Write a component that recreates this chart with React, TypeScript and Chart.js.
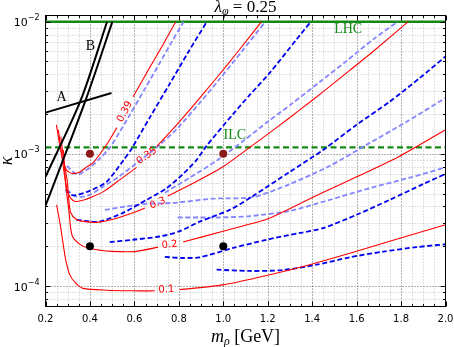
import React, { useEffect, useRef } from "react";
import { Chart, registerables } from "chart.js";

Chart.register(...registerables);

// ---------- axis ranges & ticks ----------
const X_MIN = 0.2;
const X_MAX = 2.0;
const Y_MIN = 7.04e-5;
const Y_MAX = 1.114e-2;

const xTickValues = [0.2, 0.4, 0.6, 0.8, 1.0, 1.2, 1.4, 1.6, 1.8, 2.0];
const xTickLabels = ["0.2", "0.4", "0.6", "0.8", "1.0", "1.2", "1.4", "1.6", "1.8", "2.0"];
const yTickValues = [1e-4, 1e-3, 1e-2];
const yTickExponents = ["\u22124", "\u22123", "\u22122"];

// ---------- red solid contours ----------
const r039X = [0.249, 0.264, 0.278, 0.294, 0.320, 0.354, 0.387, 0.414, 0.458, 0.489, 0.521, null, 0.594, 0.669, 0.728, 0.786];
const r039Y = [1.66e-3, 1.17e-3, 9.0e-4, 7.57e-4, 7.1e-4, 7.3e-4, 8.0e-4, 8.55e-4, 1.07e-3, 1.28e-3, 1.58e-3, null, 2.7e-3, 4.5e-3, 6.67e-3, 1.0e-2];

const r035X = [0.258, 0.273, 0.282, 0.297, 0.314, 0.335, 0.377, 0.414, 0.462, 0.534, 0.610, null, 0.701, 0.782, 0.872, 0.962, 1.066, 1.172];
const r035Y = [1.52e-3, 9.83e-4, 7.57e-4, 5.34e-4, 4.6e-4, 4.36e-4, 4.5e-4, 4.75e-4, 5.2e-4, 6.36e-4, 7.9e-4, null, 1.14e-3, 1.60e-3, 2.39e-3, 3.62e-3, 5.95e-3, 1.0e-2];

const r030X = [0.269, 0.282, 0.297, 0.305, 0.313, 0.340, 0.377, 0.430, 0.504, 0.610, 0.647, null, 0.750, 0.864, 0.999, 1.119, 1.232, 1.344, 1.457, 1.569, 1.682, 1.832];
const r030Y = [1.35e-3, 9.0e-4, 6.36e-4, 4.49e-4, 3.6e-4, 3.17e-4, 3.07e-4, 3.03e-4, 3.2e-4, 3.66e-4, 3.9e-4, null, 4.8e-4, 6.0e-4, 8.0e-4, 1.12e-3, 1.545e-3, 2.15e-3, 3.02e-3, 4.28e-3, 6.11e-3, 1.0e-2];

const r020X = [0.280, 0.291, 0.305, 0.320, 0.358, 0.399, 0.462, 0.534, 0.610, 0.707, null, 0.819, 0.999, 1.195, 1.299, 1.448, 1.600, 1.794, 2.0];
const r020Y = [1.07e-3, 5.83e-4, 3.77e-4, 2.4e-4, 2.05e-4, 1.92e-4, 1.85e-4, 1.82e-4, 1.83e-4, 1.97e-4, null, 2.15e-4, 2.6e-4, 3.2e-4, 3.85e-4, 5.1e-4, 6.7e-4, 9.6e-4, 1.52e-3];

const r010X = [0.250, 0.268, 0.279, 0.291, 0.309, 0.336, 0.369, 0.475, 0.594, 0.692, null, 0.804, 0.999, 1.195, 1.389, 1.600, 1.794, 2.0];
const r010Y = [4.12e-4, 2.8e-4, 2.1e-4, 1.58e-4, 1.22e-4, 1.05e-4, 9.6e-5, 9.3e-5, 9.2e-5, 9.2e-5, null, 9.4e-5, 1.02e-4, 1.2e-4, 1.45e-4, 1.83e-4, 2.3e-4, 2.91e-4];

// ---------- dark blue dashed contours ----------
const d1X = [0.290, 0.324, 0.399, 0.475, 0.552, 0.584, 0.669, 0.755, 0.840, 0.926];
const d1Y = [5.34e-4, 4.85e-4, 5.25e-4, 6.15e-4, 9.0e-4, 1.07e-3, 1.88e-3, 3.30e-3, 5.79e-3, 1.0e-2];

const d2X = [0.340, 0.399, 0.444, 0.549, 0.655, 0.745, 0.819, 0.880, 0.925, 1.044, 1.119, 1.209, 1.330, 1.394];
const d2Y = [3.17e-4, 3.08e-4, 3.07e-4, 3.58e-4, 4.49e-4, 5.5e-4, 7.05e-4, 9.0e-4, 1.15e-3, 2.0e-3, 2.79e-3, 4.1e-3, 7.36e-3, 1.0e-2];

const d3X = [0.489, 0.593, 0.714, 0.804, 0.894, 1.029, 1.134, 1.299, 1.449, 1.600, 1.749, 1.884, 2.0];
const d3Y = [2.15e-4, 2.24e-4, 2.37e-4, 2.6e-4, 3.07e-4, 3.77e-4, 4.8e-4, 7.3e-4, 1.07e-3, 1.66e-3, 2.48e-3, 3.75e-3, 5.45e-3];

const d4X = [0.737, 0.818, 0.894, 1.044, 1.195, 1.344, 1.449, 1.600, 1.749, 1.899, 2.0];
const d4Y = [1.66e-4, 1.63e-4, 1.65e-4, 1.94e-4, 2.24e-4, 2.52e-4, 2.74e-4, 3.46e-4, 4.49e-4, 5.9e-4, 7.06e-4];

const d5X = [0.970, 1.119, 1.269, 1.420, 1.569, 1.719, 1.870, 2.0];
const d5Y = [1.33e-4, 1.3e-4, 1.32e-4, 1.45e-4, 1.65e-4, 1.82e-4, 1.97e-4, 2.07e-4];

// ---------- light blue dashed contours ----------
const l1X = [0.296, 0.342, 0.399, 0.444, 0.489, 0.534, 0.579, 0.647, 0.714, 0.768, 0.822];
const l1Y = [8.1e-4, 7.0e-4, 7.85e-4, 9.2e-4, 1.11e-3, 1.466e-3, 1.97e-3, 3.10e-3, 4.87e-3, 7.03e-3, 1.0e-2];

const l2X = [0.296, 0.342, 0.399, 0.455, 0.534, 0.624, 0.719, 0.800, 0.890, 0.980, 1.083, 1.189];
const l2Y = [5.34e-4, 4.72e-4, 4.9e-4, 5.6e-4, 6.8e-4, 8.86e-4, 1.19e-3, 1.60e-3, 2.39e-3, 3.62e-3, 5.95e-3, 1.0e-2];

const l3X = [0.737, 0.849, 0.975, 1.097, 1.200, 1.308, 1.434, 1.560, 1.677, 1.785];
const l3Y = [5.08e-4, 6.6e-4, 9.0e-4, 1.28e-3, 1.75e-3, 2.39e-3, 3.50e-3, 5.13e-3, 7.40e-3, 1.0e-2];

const l4X = [0.467, 0.565, 0.655, 0.773, 0.953, 1.133, 1.299, 1.479, 1.644, 1.825, 2.0];
const l4Y = [3.77e-4, 4.0e-4, 4.2e-4, 4.25e-4, 4.58e-4, 4.7e-4, 5.9e-4, 8.1e-4, 1.17e-3, 1.75e-3, 2.65e-3];

const l5X = [0.795, 0.894, 0.984, 1.119, 1.299, 1.479, 1.659, 1.839, 2.0];
const l5Y = [3.3e-4, 3.3e-4, 3.3e-4, 3.38e-4, 3.7e-4, 4.49e-4, 5.5e-4, 6.6e-4, 7.9e-4];

// ---------- black bounds A and B ----------
const aX = [0.2, 0.497];
const aY = [2.05e-3, 2.89e-3];
const b1X = [0.477, 0.359, 0.2];
const b1Y = [1.0e-2, 2.56e-3, 6.7e-4];
const b2X = [0.501, 0.381, 0.2];
const b2Y = [1.0e-2, 2.56e-3, 4.05e-4];

// ---------- collider reach ----------
const lhcKappa = 1.0e-2;
const ilcKappa = 1.12e-3;

// ---------- benchmark points ----------
const dotX = [0.4, 1.0, 0.4, 1.0];
const dotY = [1.0e-3, 1.0e-3, 2.0e-4, 2.0e-4];

// ---------- contour labels ----------
const contourLabels = ["0.39", "0.35", "0.3", "0.2", "0.1"];
const contourLabelX = [0.557, 0.656, 0.705, 0.759, 0.744];
const contourLabelY = [2.08e-3, 9.66e-4, 4.23e-4, 2.05e-4, 9.4e-5];
const contourLabelAngle = [-62, -36, -22, -6, -2];

// ---------- text annotations ----------
const annotTexts = ["LHC", "ILC", "A", "B"];
const annotX = [1.562, 1.052, 0.272, 0.402];
const annotY = [8.73e-3, 1.37e-3, 2.67e-3, 6.47e-3];

const RED = "#ff0000";
const BLUE = "#0000f0";
const LBLUE = "#8585ff";
const GREEN = "#138a13";
const DOT_RED = "#8b1a1a";
const DASH = [5, 2.6];

function pts(xs: (number | null)[], ys: (number | null)[]) {
  const out: any[] = [];
  for (let i = 0; i < xs.length; i++) {
    if (xs[i] === null || ys[i] === null) out.push({ x: xs[i - 1] as number, y: null });
    else out.push({ x: xs[i], y: ys[i] });
  }
  return out;
}

function curve(xs: (number | null)[], ys: (number | null)[], color: string, width: number, dash: number[], tension = 0.25) {
  return {
    data: pts(xs, ys),
    borderColor: color,
    backgroundColor: color,
    borderWidth: width,
    borderDash: dash,
    pointRadius: 0,
    pointHoverRadius: 0,
    fill: false,
    tension,
    spanGaps: false,
    showLine: true,
  };
}

const decorPlugin = {
  id: "decor",
  beforeDatasetsDraw(chart: any) {
    const { ctx, chartArea: a } = chart;
    const xs = chart.scales.x;
    const ys = chart.scales.y;
    ctx.save();
    ctx.lineWidth = 1;
    const vline = (v: number, color: string) => {
      const p = Math.round(xs.getPixelForValue(v)) + 0.5;
      ctx.strokeStyle = color;
      ctx.beginPath();
      ctx.moveTo(p, a.top);
      ctx.lineTo(p, a.bottom);
      ctx.stroke();
    };
    const hline = (v: number, color: string) => {
      const p = Math.round(ys.getPixelForValue(v)) + 0.5;
      ctx.strokeStyle = color;
      ctx.beginPath();
      ctx.moveTo(a.left, p);
      ctx.lineTo(a.right, p);
      ctx.stroke();
    };
    ctx.setLineDash([1, 2]);
    for (let k = 5; k < 40; k++) {
      if (k % 4 !== 0) vline(k * 0.05, "rgba(0,0,0,0.24)");
    }
    for (let n = -5; n <= -2; n++) {
      for (let m = 2; m <= 9; m++) {
        const v = m * Math.pow(10, n);
        if (v > Y_MIN && v < Y_MAX) hline(v, "rgba(0,0,0,0.24)");
      }
    }
    xTickValues.forEach((v) => {
      if (v > X_MIN + 1e-6 && v < X_MAX - 1e-6) vline(v, "rgba(0,0,0,0.6)");
    });
    yTickValues.forEach((v) => hline(v, "rgba(0,0,0,0.6)"));
    ctx.restore();
  },
  afterDraw(chart: any) {
    const { ctx, chartArea: a } = chart;
    const xs = chart.scales.x;
    const ys = chart.scales.y;
    ctx.save();
    ctx.setLineDash([]);
    ctx.strokeStyle = "#000";
    ctx.lineWidth = 1;
    ctx.beginPath();
    for (let k = 4; k <= 40; k++) {
      const p = Math.round(xs.getPixelForValue(k * 0.05)) + 0.5;
      const len = k % 4 === 0 ? 5 : 2.5;
      ctx.moveTo(p, a.bottom);
      ctx.lineTo(p, a.bottom - len);
      ctx.moveTo(p, a.top);
      ctx.lineTo(p, a.top + len);
    }
    for (let n = -5; n <= -2; n++) {
      for (let m = 1; m <= 9; m++) {
        const v = m * Math.pow(10, n);
        if (v <= Y_MIN || v >= Y_MAX) continue;
        const p = Math.round(ys.getPixelForValue(v)) + 0.5;
        const len = m === 1 ? 5 : 2.5;
        ctx.moveTo(a.left, p);
        ctx.lineTo(a.left + len, p);
        ctx.moveTo(a.right, p);
        ctx.lineTo(a.right - len, p);
      }
    }
    ctx.stroke();
    ctx.strokeRect(a.left, a.top, a.right - a.left, a.bottom - a.top);

    // x tick labels
    ctx.fillStyle = "#000";
    ctx.font = '10px "DejaVu Sans"';
    ctx.textAlign = "center";
    ctx.textBaseline = "alphabetic";
    xTickValues.forEach((v, i) => {
      ctx.fillText(xTickLabels[i], xs.getPixelForValue(v), a.bottom + 15.5);
    });
    // y tick labels 10^n
    yTickValues.forEach((v, i) => {
      const py = ys.getPixelForValue(v);
      ctx.font = '8px "DejaVu Sans"';
      const ew = ctx.measureText(yTickExponents[i]).width;
      ctx.font = '11px "DejaVu Sans"';
      const bw = ctx.measureText("10").width;
      const right = a.left - 6;
      ctx.textAlign = "left";
      ctx.fillText("10", right - ew - bw, py + 4.5);
      ctx.font = '8px "DejaVu Sans"';
      ctx.fillText(yTickExponents[i], right - ew, py - 1.5);
    });

    // title
    const cx = (a.left + a.right) / 2;
    ctx.font = 'italic 17px "Liberation Serif"';
    const w1 = ctx.measureText("\u03bb").width;
    ctx.font = 'italic 12px "Liberation Serif"';
    const w2 = ctx.measureText("\u03c6").width;
    ctx.font = '17px "Liberation Serif"';
    const w3 = ctx.measureText(" = 0.25").width;
    let sx = cx - (w1 + w2 + w3) / 2;
    const tb = a.top - 3.5;
    ctx.textAlign = "left";
    ctx.font = 'italic 17px "Liberation Serif"';
    ctx.fillText("\u03bb", sx, tb);
    sx += w1;
    ctx.font = 'italic 12px "Liberation Serif"';
    ctx.fillText("\u03c6", sx, tb + 3);
    sx += w2;
    ctx.font = '17px "Liberation Serif"';
    ctx.fillText(" = 0.25", sx, tb);

    // x axis title
    ctx.font = 'italic 18px "Liberation Serif"';
    const m1 = ctx.measureText("m").width;
    ctx.font = 'italic 12px "Liberation Serif"';
    const m2 = ctx.measureText("\u03c1").width;
    ctx.font = '18px "Liberation Serif"';
    const m3 = ctx.measureText(" [GeV]").width;
    let mx = cx - (m1 + m2 + m3) / 2;
    const mb = a.bottom + 35;
    ctx.font = 'italic 18px "Liberation Serif"';
    ctx.fillText("m", mx, mb);
    mx += m1;
    ctx.font = 'italic 12px "Liberation Serif"';
    ctx.fillText("\u03c1", mx, mb + 3);
    mx += m2;
    ctx.font = '18px "Liberation Serif"';
    ctx.fillText(" [GeV]", mx, mb);

    // y axis title
    ctx.save();
    ctx.translate(12, (a.top + a.bottom) / 2);
    ctx.rotate(-Math.PI / 2);
    ctx.font = 'italic 18px "Liberation Serif"';
    ctx.textAlign = "center";
    ctx.fillText("\u03ba", 0, 0);
    ctx.restore();

    // contour labels
    ctx.fillStyle = RED;
    ctx.font = '10px "DejaVu Sans"';
    ctx.textAlign = "center";
    ctx.textBaseline = "middle";
    contourLabels.forEach((t, i) => {
      ctx.save();
      ctx.translate(xs.getPixelForValue(contourLabelX[i]), ys.getPixelForValue(contourLabelY[i]));
      ctx.rotate((contourLabelAngle[i] * Math.PI) / 180);
      ctx.fillText(t, 0, 0);
      ctx.restore();
    });

    // annotations
    ctx.font = '14px "Liberation Serif"';
    annotTexts.forEach((t, i) => {
      ctx.fillStyle = i < 2 ? GREEN : "#000";
      ctx.fillText(t, xs.getPixelForValue(annotX[i]), ys.getPixelForValue(annotY[i]));
    });
    ctx.restore();
  },
};

export default function App() {
  const ref = useRef<HTMLCanvasElement | null>(null);
  useEffect(() => {
    if (!ref.current) return;
    const datasets: any[] = [
      {
        data: dotX.map((x, i) => ({ x, y: dotY[i] })),
        showLine: false,
        pointRadius: 4,
        pointBorderWidth: 0,
        pointBackgroundColor: [DOT_RED, DOT_RED, "#000", "#000"],
        pointBorderColor: [DOT_RED, DOT_RED, "#000", "#000"],
      },
      curve(aX, aY, "#000", 2, [], 0),
      curve(b1X, b1Y, "#000", 2, [], 0.3),
      curve(b2X, b2Y, "#000", 2, [], 0.3),
      curve(r039X, r039Y, RED, 1.1, []),
      curve(r035X, r035Y, RED, 1.1, []),
      curve(r030X, r030Y, RED, 1.1, []),
      curve(r020X, r020Y, RED, 1.1, []),
      curve(r010X, r010Y, RED, 1.1, []),
      curve(d1X, d1Y, BLUE, 1.8, DASH),
      curve(d2X, d2Y, BLUE, 1.8, DASH),
      curve(d3X, d3Y, BLUE, 1.8, DASH),
      curve(d4X, d4Y, BLUE, 1.8, DASH),
      curve(d5X, d5Y, BLUE, 1.8, DASH),
      curve(l1X, l1Y, LBLUE, 1.8, DASH),
      curve(l2X, l2Y, LBLUE, 1.8, DASH),
      curve(l3X, l3Y, LBLUE, 1.8, DASH),
      curve(l4X, l4Y, LBLUE, 1.8, DASH),
      curve(l5X, l5Y, LBLUE, 1.8, DASH),
      curve([X_MIN, X_MAX], [lhcKappa, lhcKappa], GREEN, 2.4, [], 0),
      curve([X_MIN, X_MAX], [ilcKappa, ilcKappa], GREEN, 2.2, [6, 3.5], 0),
    ];
    const chart = new Chart(ref.current, {
      type: "line",
      data: { datasets },
      options: {
        animation: false,
        responsive: false,
        devicePixelRatio: 1,
        events: [],
        layout: { padding: { left: 45.5, right: 8.5, top: 15.5, bottom: 40.5 } },
        plugins: { legend: { display: false }, tooltip: { enabled: false }, title: { display: false } },
        scales: {
          x: { type: "linear", min: X_MIN, max: X_MAX, display: false },
          y: { type: "logarithmic", min: Y_MIN, max: Y_MAX, display: false },
        },
      } as any,
      plugins: [decorPlugin],
    });
    return () => chart.destroy();
  }, []);
  return (
    <div style={{ position: "absolute", left: 0, top: 0, width: 454, height: 347, background: "#fff" }}>
      <canvas ref={ref} width={454} height={347} style={{ width: 454, height: 347, display: "block" }} />
    </div>
  );
}
